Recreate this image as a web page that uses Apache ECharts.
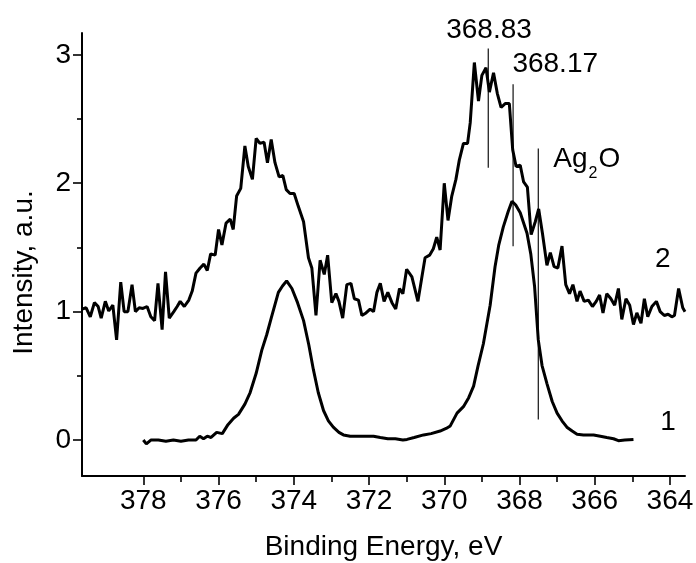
<!DOCTYPE html>
<html><head><meta charset="utf-8">
<script src="https://cdn.jsdelivr.net/npm/echarts@6/dist/echarts.min.js"></script>
<style>html,body{margin:0;padding:0;background:#fff}#c{width:696px;height:563px}</style>
</head><body><div id="c"></div>
<script>
// ---- data ----
const xMajorTicks = [364, 366, 368, 370, 372, 374, 376, 378];
const xMinorTicks = [365, 367, 369, 371, 373, 375, 377];
const yMajorTicks = [0, 1, 2, 3];
const yMinorTicks = [0.5, 1.5, 2.5];

const energy1 = [378.00,377.92,377.80,377.60,377.40,377.20,377.00,376.80,376.60,376.50,376.40,376.30,376.20,376.05,375.90,375.75,375.60,375.47,375.30,375.16,375.00,374.85,374.72,374.60,374.41,374.30,374.19,374.05,373.90,373.74,373.60,373.48,373.35,373.21,373.08,372.95,372.80,372.68,372.50,372.30,372.10,371.88,371.70,371.50,371.30,371.10,370.99,370.80,370.55,370.35,370.11,369.95,369.84,369.66,369.49,369.35,369.22,369.10,368.96,368.78,368.65,368.55,368.43,368.30,368.20,368.10,367.98,367.80,367.70,367.60,367.50,367.40,367.27,367.13,367.00,366.87,366.74,366.60,366.47,366.30,366.03,365.85,365.68,365.50,365.37,365.20,364.97];
const intensity1 = [0.00,-0.03,0.00,0.00,-0.01,0.00,-0.01,0.00,0.00,0.03,0.01,0.03,0.02,0.06,0.05,0.12,0.17,0.20,0.28,0.37,0.52,0.70,0.82,0.95,1.15,1.20,1.24,1.18,1.07,0.93,0.74,0.55,0.37,0.23,0.15,0.10,0.06,0.04,0.03,0.03,0.03,0.03,0.02,0.01,0.01,0.00,0.005,0.02,0.04,0.05,0.07,0.09,0.11,0.21,0.26,0.33,0.42,0.58,0.75,1.05,1.35,1.52,1.66,1.78,1.86,1.83,1.77,1.61,1.45,1.20,0.78,0.58,0.44,0.30,0.21,0.15,0.10,0.07,0.045,0.04,0.04,0.03,0.02,0.01,-0.005,0.00,0.005];

const energy2 = [379.63,379.52,379.41,379.30,379.20,379.12,379.01,378.92,378.81,378.71,378.60,378.51,378.41,378.30,378.21,378.11,378.01,377.90,377.80,377.70,377.61,377.50,377.41,377.31,377.19,377.10,377.02,376.91,376.79,376.70,376.60,376.49,376.39,376.30,376.21,376.09,376.00,375.91,375.80,375.69,375.61,375.52,375.41,375.30,375.21,375.10,375.00,374.90,374.79,374.70,374.60,374.50,374.39,374.29,374.20,374.10,373.99,373.88,373.74,373.61,373.52,373.41,373.30,373.19,373.10,372.99,372.88,372.80,372.70,372.59,372.48,372.39,372.28,372.19,372.08,371.97,371.88,371.79,371.70,371.60,371.50,371.39,371.29,371.19,371.10,371.00,370.86,370.70,370.60,370.51,370.39,370.29,370.20,370.11,370.00,369.90,369.80,369.69,369.60,369.49,369.38,369.31,369.20,369.09,369.00,368.89,368.80,368.69,368.59,368.49,368.38,368.27,368.18,368.09,367.98,367.89,367.79,367.69,367.58,367.49,367.39,367.27,367.18,367.08,366.98,366.87,366.77,366.67,366.58,366.47,366.39,366.28,366.17,366.06,365.96,365.87,365.78,365.68,365.57,365.47,365.37,365.28,365.17,365.07,364.97,364.88,364.77,364.68,364.59,364.48,364.36,364.26,364.15,364.05,363.95,363.88,363.77,363.66,363.60];
const intensity2 = [1.02,1.03,0.96,1.07,1.04,0.95,1.08,1.005,1.05,0.78,1.23,1.00,1.00,1.21,1.00,1.03,1.025,1.04,0.96,0.93,1.22,0.86,1.31,0.95,1.00,1.04,1.08,1.04,1.09,1.16,1.30,1.34,1.37,1.32,1.45,1.44,1.64,1.52,1.69,1.72,1.64,1.90,1.96,2.29,2.13,2.03,2.35,2.31,2.32,2.16,2.34,2.16,2.05,2.06,1.95,1.92,1.92,1.82,1.70,1.42,1.34,0.97,1.40,1.29,1.44,1.07,1.14,1.08,0.95,1.21,1.22,1.10,1.09,0.97,0.99,1.02,1.00,1.15,1.22,1.08,1.15,1.07,1.02,1.18,1.14,1.33,1.27,1.08,1.26,1.42,1.44,1.49,1.58,1.48,2.00,1.71,1.90,2.03,2.18,2.31,2.31,2.47,2.94,2.64,2.84,2.90,2.71,2.86,2.70,2.59,2.62,2.62,2.26,2.13,2.14,2.01,1.97,1.60,1.70,1.80,1.61,1.36,1.46,1.35,1.34,1.51,1.21,1.14,1.21,1.08,1.16,1.08,1.09,1.04,1.08,1.13,0.99,1.14,1.10,1.05,1.18,0.94,1.10,1.05,0.90,0.99,0.91,1.10,0.96,1.04,1.08,1.00,0.97,0.98,0.96,0.97,1.18,1.03,1.00];

// vertical marker lines
const markerE = [368.83, 368.17, 367.50];
const markerTop = [3.05, 2.77, 2.27];
const markerBottom = [2.12, 1.51, 0.16];

// text annotations
const noteText = ['368.83', '368.17', 'Ag{sub|2}O', '2', '1'];
const noteE = [368.81, 367.05, 367.10, 364.19, 364.05];
const noteV = [3.19, 2.93, 2.19, 1.41, 0.14];
const noteAlign = ['center', 'center', 'left', 'center', 'center'];

// ---- chart ----
const FONT = 'Liberation Sans, Arial, sans-serif';
const FS = 28;
const zip = (a, b) => a.map((v, i) => [v, b[i]]);

const chart = echarts.init(document.getElementById('c'), null, {renderer: 'canvas'});

const xMin = 363.6, xMax = 379.63, yMin = -0.28, yMax = 3.17;

const baseX = {type: 'value', min: xMin, max: xMax, inverse: true, position: 'bottom', splitLine: {show: false}};
const baseY = {type: 'value', min: yMin, max: yMax, position: 'left', splitLine: {show: false}};

const series = [
  {type: 'line', data: zip(energy2, intensity2), showSymbol: false, symbol: 'none',
   lineStyle: {color: '#000', width: 3}, z: 3},
  {type: 'line', data: zip(energy1, intensity1), showSymbol: false, symbol: 'none',
   lineStyle: {color: '#000', width: 3}, z: 3}
];
markerE.forEach((e, i) => {
  series.push({type: 'line', data: [[e, markerTop[i]], [e, markerBottom[i]]], showSymbol: false, symbol: 'none',
    lineStyle: {color: '#111', width: 1.2}, z: 2, clip: false});
});
series.push({
  type: 'scatter', symbolSize: 0, clip: false, z: 5,
  itemStyle: {opacity: 1},
  data: noteText.map((t, i) => ({
    value: [noteE[i], noteV[i]],
    label: {
      show: true,
      position: noteAlign[i] === 'left' ? 'right' : 'inside',
      distance: 0,
      formatter: t,
      color: '#000', fontFamily: FONT, fontSize: FS,
      rich: {sub: {fontSize: 16, fontFamily: FONT, color: '#000', padding: [30, 1, 0, 1]}}
    }
  }))
});

chart.setOption({
  animation: false,
  backgroundColor: '#fff',
  grid: {left: 82, right: 11, top: 33, bottom: 87, containLabel: false, outerBoundsMode: 'none'},
  xAxis: [
    Object.assign({}, baseX, {
      name: 'Binding Energy, eV', nameLocation: 'middle', nameGap: 57,
      nameTextStyle: {fontFamily: FONT, fontSize: FS, color: '#000'},
      axisLine: {show: true, onZero: false, lineStyle: {color: '#000', width: 2}},
      axisTick: {show: true, inside: false, length: 9, customValues: xMajorTicks, lineStyle: {color: '#000', width: 1.6}},
      axisLabel: {show: true, margin: 11, customValues: xMajorTicks, fontFamily: FONT, fontSize: FS, color: '#000'}
    }),
    Object.assign({}, baseX, {
      axisLine: {show: false, onZero: false},
      axisTick: {show: true, inside: false, length: 6, customValues: xMinorTicks, lineStyle: {color: '#000', width: 1.6}},
      axisLabel: {show: false}
    })
  ],
  yAxis: [
    Object.assign({}, baseY, {
      name: 'Intensity, a.u.', nameLocation: 'middle', nameGap: 44, nameRotate: 90,
      nameTextStyle: {fontFamily: FONT, fontSize: FS, color: '#000', padding: [0, 36, 0, 0]},
      axisLine: {show: true, onZero: false, lineStyle: {color: '#000', width: 2}},
      axisTick: {show: true, inside: false, length: 9, customValues: yMajorTicks, lineStyle: {color: '#000', width: 1.6}},
      axisLabel: {show: true, margin: 11, customValues: yMajorTicks, fontFamily: FONT, fontSize: FS, color: '#000'}
    }),
    Object.assign({}, baseY, {
      axisLine: {show: false, onZero: false},
      axisTick: {show: true, inside: false, length: 5, customValues: yMinorTicks, lineStyle: {color: '#000', width: 1.6}},
      axisLabel: {show: false}
    })
  ],
  series: series
});
</script>
</body></html>
